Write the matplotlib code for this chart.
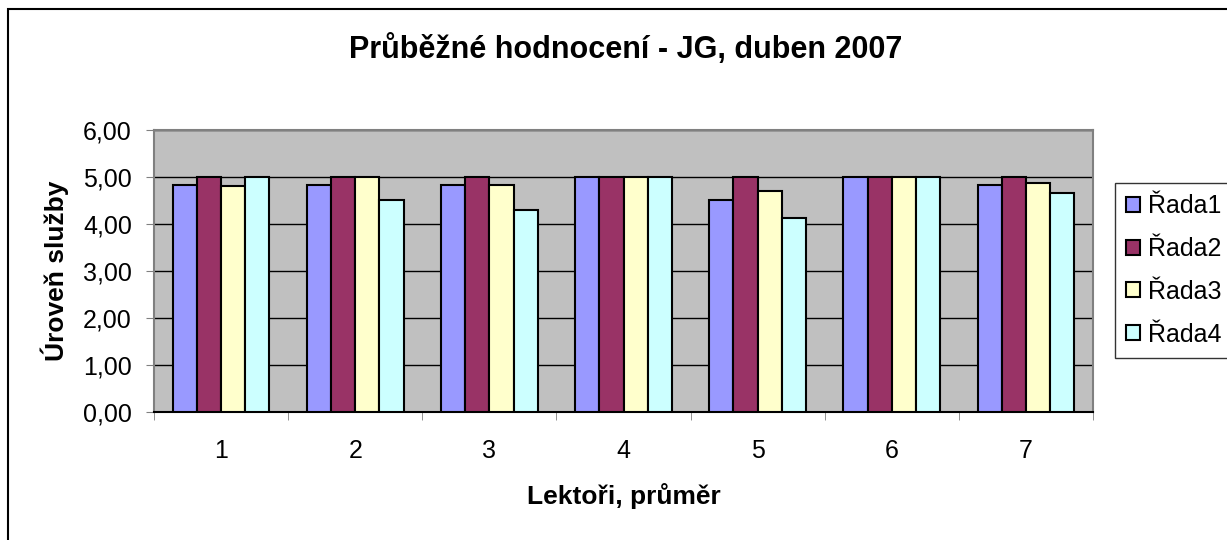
import numpy as np
import matplotlib.pyplot as plt
from matplotlib.patches import Rectangle

plt.rcParams['font.family'] = ['Liberation Sans', 'DejaVu Sans']

lektori = ['1', '2', '3', '4', '5', '6', '7']
rada1 = [4.82, 4.82, 4.82, 5.00, 4.50, 5.00, 4.82]
rada2 = [5.00, 5.00, 5.00, 5.00, 5.00, 5.00, 5.00]
rada3 = [4.80, 5.00, 4.82, 5.00, 4.69, 5.00, 4.86]
rada4 = [5.00, 4.51, 4.30, 5.00, 4.12, 5.00, 4.65]
nazvy = ['Řada1', 'Řada2', 'Řada3', 'Řada4']
barvy = ['#9999FF', '#993366', '#FFFFCC', '#CCFFFF']

fig = plt.figure(figsize=(12.27, 5.4), dpi=100)
ax = fig.add_axes([154 / 1227, 1 - 411.7 / 540, 939 / 1227, 282 / 540])

# outer chart frame
fig.patches.append(Rectangle((8 / 1227, -0.05), 1.1, 1 - 9 / 540 + 0.05,
                             transform=fig.transFigure, fill=False,
                             edgecolor='black', linewidth=1.5))

x = np.arange(len(lektori))
w = 0.18
for i, (vals, name, col) in enumerate(zip([rada1, rada2, rada3, rada4], nazvy, barvy)):
    ax.bar(x + (i - 1.5) * w, vals, w, color=col, edgecolor='black',
           linewidth=1.5, label=name, zorder=3)

ax.set_facecolor('#C0C0C0')
ax.set_xlim(-0.5, len(lektori) - 0.5)
ax.set_ylim(0, 6)
ax.set_yticks(np.arange(0, 7, 1))
ax.yaxis.set_major_formatter(plt.FuncFormatter(lambda v, p: ('%.2f' % v).replace('.', ',')))
ax.grid(axis='y', color='black', linewidth=1, zorder=1)

ax.set_xticks(x)
ax.set_xticklabels(lektori)
ax.set_xticks(np.arange(-0.5, len(lektori), 1), minor=True)
ax.tick_params(axis='x', which='major', length=0, labelsize=18, pad=20)
ax.tick_params(axis='x', which='minor', length=6, direction='out', color='#808080')
ax.tick_params(axis='y', length=6, direction='out', color='#808080', labelsize=18, pad=10)

for s in ['top', 'right', 'left']:
    ax.spines[s].set_color('#808080')
    ax.spines[s].set_linewidth(1.5)
ax.spines['bottom'].set_color('black')
ax.spines['bottom'].set_linewidth(1.5)

ax.set_xlabel('Lektoři, průměr', fontsize=19, fontweight='bold', labelpad=14)
ax.set_ylabel('Úroveň služby', fontsize=19, fontweight='bold', labelpad=10)
fig.text(626 / 1227, 1 - 50 / 540, 'Průběžné hodnocení - JG, duben 2007',
         ha='center', va='center', fontsize=22, fontweight='bold')

leg = fig.legend(loc='upper left', bbox_to_anchor=(1115 / 1227, 1 - 183 / 540),
                 fontsize=18, frameon=True, fancybox=False, edgecolor='black',
                 handlelength=0.55, handleheight=0.55, handletextpad=0.3,
                 labelspacing=0.75, borderpad=0.45, borderaxespad=0)
leg.get_frame().set_linewidth(1)

fig.savefig('out.png', dpi=100)
